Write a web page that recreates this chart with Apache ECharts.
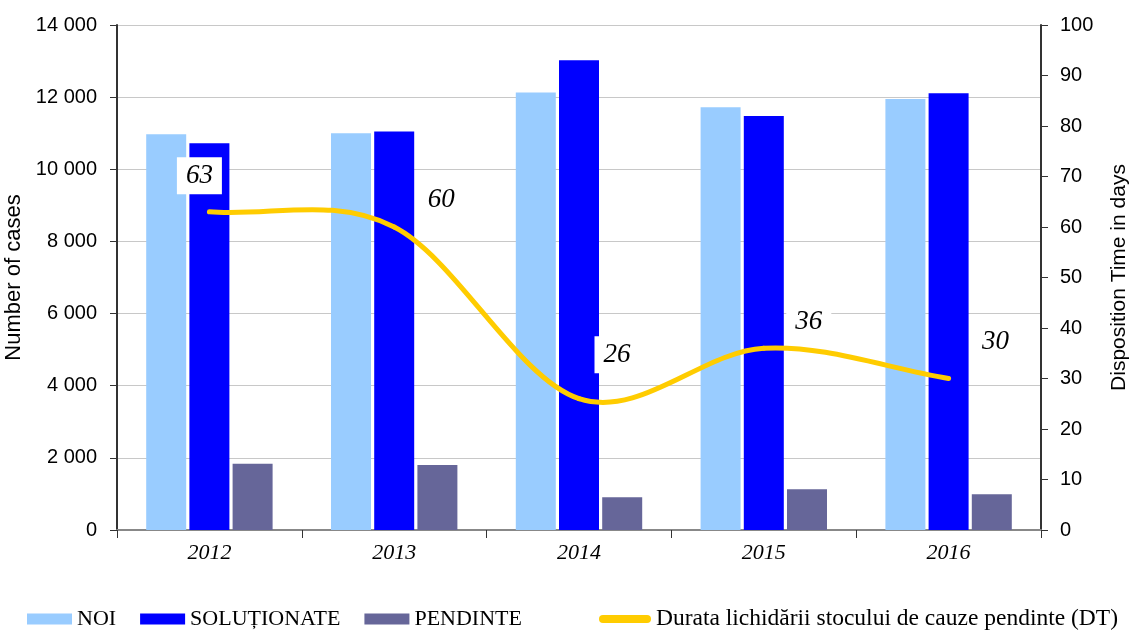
<!DOCTYPE html>
<html>
<head>
<meta charset="utf-8">
<script src="https://cdn.jsdelivr.net/npm/echarts@6/dist/echarts.min.js"></script>
<style>
html,body{margin:0;padding:0;background:#fff}
#main{width:1137px;height:630px}
</style>
</head>
<body>
<div id="main"></div>
<script>
var years = ['2012', '2013', '2014', '2015', '2016'];
var noi = [10970, 11000, 12130, 11720, 11950];
var solutionate = [10720, 11050, 13020, 11480, 12110];
var pendinte = [1840, 1800, 910, 1130, 990];
var durata = [63, 60, 26, 36, 30];
// poziția etichetelor DT față de punct (px)
var labelOffsets = [[-10, -36], [47, -27], [38, -44], [45, -26], [47, -37]];

var serif = '"Liberation Serif", "DejaVu Serif", serif';
var sans = '"Liberation Sans", Arial, sans-serif';
var dtName = 'Durata lichidării stocului de cauze pendinte (DT)';

function fmt(v) {
    return String(v).replace(/\B(?=(\d{3})+(?!\d))/g, ' ');
}

// curba netezită ca în Excel (Catmull-Rom), segment i -> i+1
function renderDT(params, api) {
    var i = params.dataIndex;
    var n = durata.length;
    var pt = function (k) { return api.coord([k, durata[k]]); };
    var p = pt(i);
    var children = [];
    if (i < n - 1) {
        var p0 = pt(Math.max(i - 1, 0));
        var p1 = p;
        var p2 = pt(i + 1);
        var p3 = pt(Math.min(i + 2, n - 1));
        var t1 = i === 0 ? [p2[0] - p1[0], p2[1] - p1[1]] : [(p2[0] - p0[0]) / 2, (p2[1] - p0[1]) / 2];
        var t2 = i + 1 === n - 1 ? [p2[0] - p1[0], p2[1] - p1[1]] : [(p3[0] - p1[0]) / 2, (p3[1] - p1[1]) / 2];
        children.push({
            type: 'bezierCurve',
            shape: {
                x1: p1[0], y1: p1[1],
                cpx1: p1[0] + t1[0] / 3, cpy1: p1[1] + t1[1] / 3,
                cpx2: p2[0] - t2[0] / 3, cpy2: p2[1] - t2[1] / 3,
                x2: p2[0], y2: p2[1]
            },
            style: { stroke: '#ffcc00', lineWidth: 5, fill: null, lineCap: 'round' }
        });
    }
    children.push({
        type: 'text',
        z2: 10,
        x: p[0] + labelOffsets[i][0],
        y: p[1] + labelOffsets[i][1],
        style: {
            text: String(durata[i]),
            fontFamily: serif,
            fontStyle: 'italic',
            fontSize: 27,
            fill: '#000',
            align: 'center',
            verticalAlign: 'middle',
            backgroundColor: '#fff',
            padding: [5, 9, 5, 9]
        }
    });
    return { type: 'group', children: children };
}

var myChart = echarts.init(document.getElementById('main'));
myChart.setOption({
    animation: false,
    grid: { left: 117, right: 96, top: 25, bottom: 100, outerBoundsMode: 'none' },
    legend: [
        {
            top: 603,
            left: 22,
            itemWidth: 45,
            itemHeight: 11,
            itemGap: 24,
            textStyle: { fontFamily: serif, fontSize: 22, color: '#000' },
            data: [
                { name: 'NOI', icon: 'rect' },
                { name: 'SOLUȚIONATE', icon: 'rect' },
                { name: 'PENDINTE', icon: 'rect' }
            ]
        },
        {
            top: 602,
            left: 594,
            itemWidth: 52,
            itemHeight: 11,
            textStyle: { fontFamily: serif, fontSize: 23.5, color: '#000' },
            data: [
                {
                    name: dtName,
                    icon: 'path://M4,0 L48,0 A4,4 0 0 1 48,8 L4,8 A4,4 0 0 1 4,0 Z',
                    itemStyle: { color: '#ffcc00' }
                }
            ]
        }
    ],
    xAxis: [
        {
            type: 'category',
            data: years,
            axisLine: { lineStyle: { color: '#333', width: 2 } },
            axisTick: { show: true, length: 8, lineStyle: { color: '#333' } },
            axisLabel: { fontFamily: serif, fontStyle: 'italic', fontSize: 22, color: '#000', margin: 12 }
        },
        {
            type: 'category',
            data: years,
            position: 'top',
            axisLine: { lineStyle: { color: '#888', width: 2 } },
            axisTick: { show: false },
            axisLabel: { show: false }
        }
    ],
    yAxis: [
        {
            type: 'value',
            min: 0, max: 14000, interval: 2000,
            name: 'Number of cases',
            nameLocation: 'middle',
            nameGap: 83,
            nameTextStyle: { fontFamily: sans, fontSize: 22, color: '#000' },
            axisLine: { show: true, lineStyle: { color: '#333', width: 2 } },
            axisTick: { show: true, length: 7, lineStyle: { color: '#333' } },
            axisLabel: { fontFamily: sans, fontSize: 20, color: '#000', margin: 20, formatter: fmt },
            splitLine: { lineStyle: { color: '#c8c8c8' } }
        },
        {
            type: 'value',
            min: 0, max: 100, interval: 10,
            name: 'Disposition Time in days',
            nameLocation: 'middle',
            nameGap: 68,
            nameRotate: 90,
            nameTextStyle: { fontFamily: sans, fontSize: 21, color: '#000' },
            axisLine: { show: true, lineStyle: { color: '#333', width: 2 } },
            axisTick: { show: true, length: 7, lineStyle: { color: '#333' } },
            axisLabel: { fontFamily: sans, fontSize: 20, color: '#000', margin: 19 },
            splitLine: { show: false }
        }
    ],
    series: [
        {
            name: 'NOI', type: 'bar', data: noi,
            barWidth: 40, barGap: '8%',
            itemStyle: { color: '#99ccff' }
        },
        {
            name: 'SOLUȚIONATE', type: 'bar', data: solutionate,
            barWidth: 40,
            itemStyle: { color: '#0000ff' }
        },
        {
            name: 'PENDINTE', type: 'bar', data: pendinte,
            barWidth: 40,
            itemStyle: { color: '#666699' }
        },
        {
            name: dtName,
            type: 'custom',
            yAxisIndex: 1,
            z: 5,
            itemStyle: { color: '#ffcc00' },
            renderItem: renderDT,
            data: durata.map(function (v, i) { return [i, v]; })
        }
    ]
});
</script>
</body>
</html>
